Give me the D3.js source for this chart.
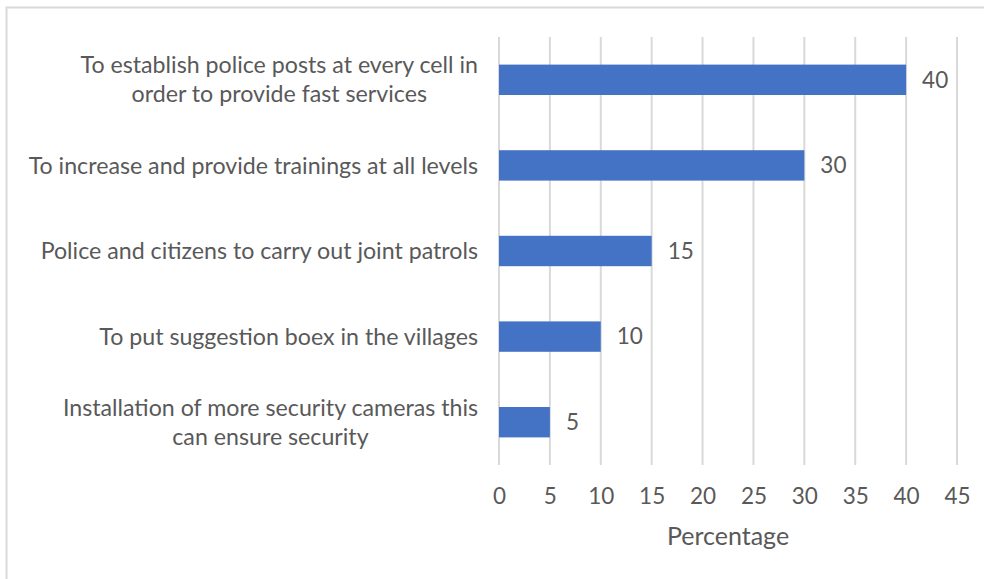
<!DOCTYPE html>
<html>
<head>
<meta charset="utf-8">
<script src="https://cdn.jsdelivr.net/npm/d3@7/dist/d3.min.js"></script>
<style>
  html, body { margin: 0; padding: 0; background: #fff; }
  svg { display: block; }
  text { font-family: Lato, "Open Sans", sans-serif; fill: #595959; }
</style>
</head>
<body>
<svg id="chart" width="984" height="579"></svg>
<script>
// Suggestions, top to bottom, with the share of respondents (%)
const categories = [
  ["To establish police posts at every cell in", "order to provide fast services"],
  ["To increase and provide trainings at all levels"],
  ["Police and citizens to carry out joint patrols"],
  ["To put suggestion boex in the villages"],
  ["Installation of more security cameras this", "can ensure security"]
];
const values = [40, 30, 15, 10, 5];
const xTicks = [0, 5, 10, 15, 20, 25, 30, 35, 40, 45];
const xTitle = "Percentage";

const svg = d3.select("#chart");
const W = 984, H = 579;
const m = { left: 499, right: 27, top: 37, bottom: 114 };

// outer chart frame (right and bottom edges run past the page)
svg.append("rect")
  .attr("x", 6.5).attr("y", 7.5)
  .attr("width", W + 20).attr("height", H + 20)
  .attr("fill", "none").attr("stroke", "#d9d9d9").attr("stroke-width", 2);

const x = d3.scaleLinear().domain([0, 45]).range([m.left, W - m.right]);
const y = d3.scaleBand().domain(d3.range(categories.length))
  .range([m.top, H - m.bottom]).paddingInner(0.645).paddingOuter(0.3225);

// vertical gridlines
svg.append("g").selectAll("line").data(xTicks).join("line")
  .attr("x1", d => x(d)).attr("x2", d => x(d))
  .attr("y1", m.top).attr("y2", H - m.bottom)
  .attr("stroke", "#d9d9d9").attr("stroke-width", 2);

// x axis tick labels
const xAxis = d3.axisBottom(x).tickValues(xTicks).tickSize(0).tickPadding(23);
const gx = svg.append("g").attr("transform", `translate(0,${H - m.bottom})`).call(xAxis);
gx.select(".domain").remove();
gx.selectAll("text").style("font-size", "22.5px").attr("fill", "#595959")
  .style("font-family", "Lato, 'Open Sans', sans-serif");

svg.append("text")
  .attr("x", (x(0) + x(45)) / 2).attr("y", 545)
  .attr("text-anchor", "middle").style("font-size", "25px")
  .text(xTitle);

// bars
svg.append("g").selectAll("rect").data(values).join("rect")
  .attr("x", x(0)).attr("y", (d, i) => y(i))
  .attr("width", d => x(d) - x(0)).attr("height", y.bandwidth())
  .attr("fill", "#4472C4");

// value labels
svg.append("g").selectAll("text").data(values).join("text")
  .attr("x", d => x(d) + 16).attr("y", (d, i) => y(i) + y.bandwidth() / 2)
  .attr("dy", "0.35em").style("font-size", "22.5px")
  .text(d => d);

// category labels, right-aligned beside the axis
const lh = 29;
const labels = svg.append("g").selectAll("text").data(categories).join("text")
  .attr("text-anchor", "middle")
  .style("font-size", "23.2px");
labels.each(function(lines, i) {
  const t = d3.select(this);
  const cy = y(i) + y.bandwidth() / 2;
  const y0 = cy - (lines.length - 1) * lh / 2;
  lines.forEach((s, k) => {
    t.append("tspan").attr("x", 0).attr("y", y0 + k * lh).attr("dy", "0.35em").text(s);
  });
  // centre the lines as a block whose right edge sits next to the axis
  const bw = this.getBBox().width;
  t.attr("transform", `translate(${478 - bw / 2},0)`);
});
</script>
</body>
</html>
